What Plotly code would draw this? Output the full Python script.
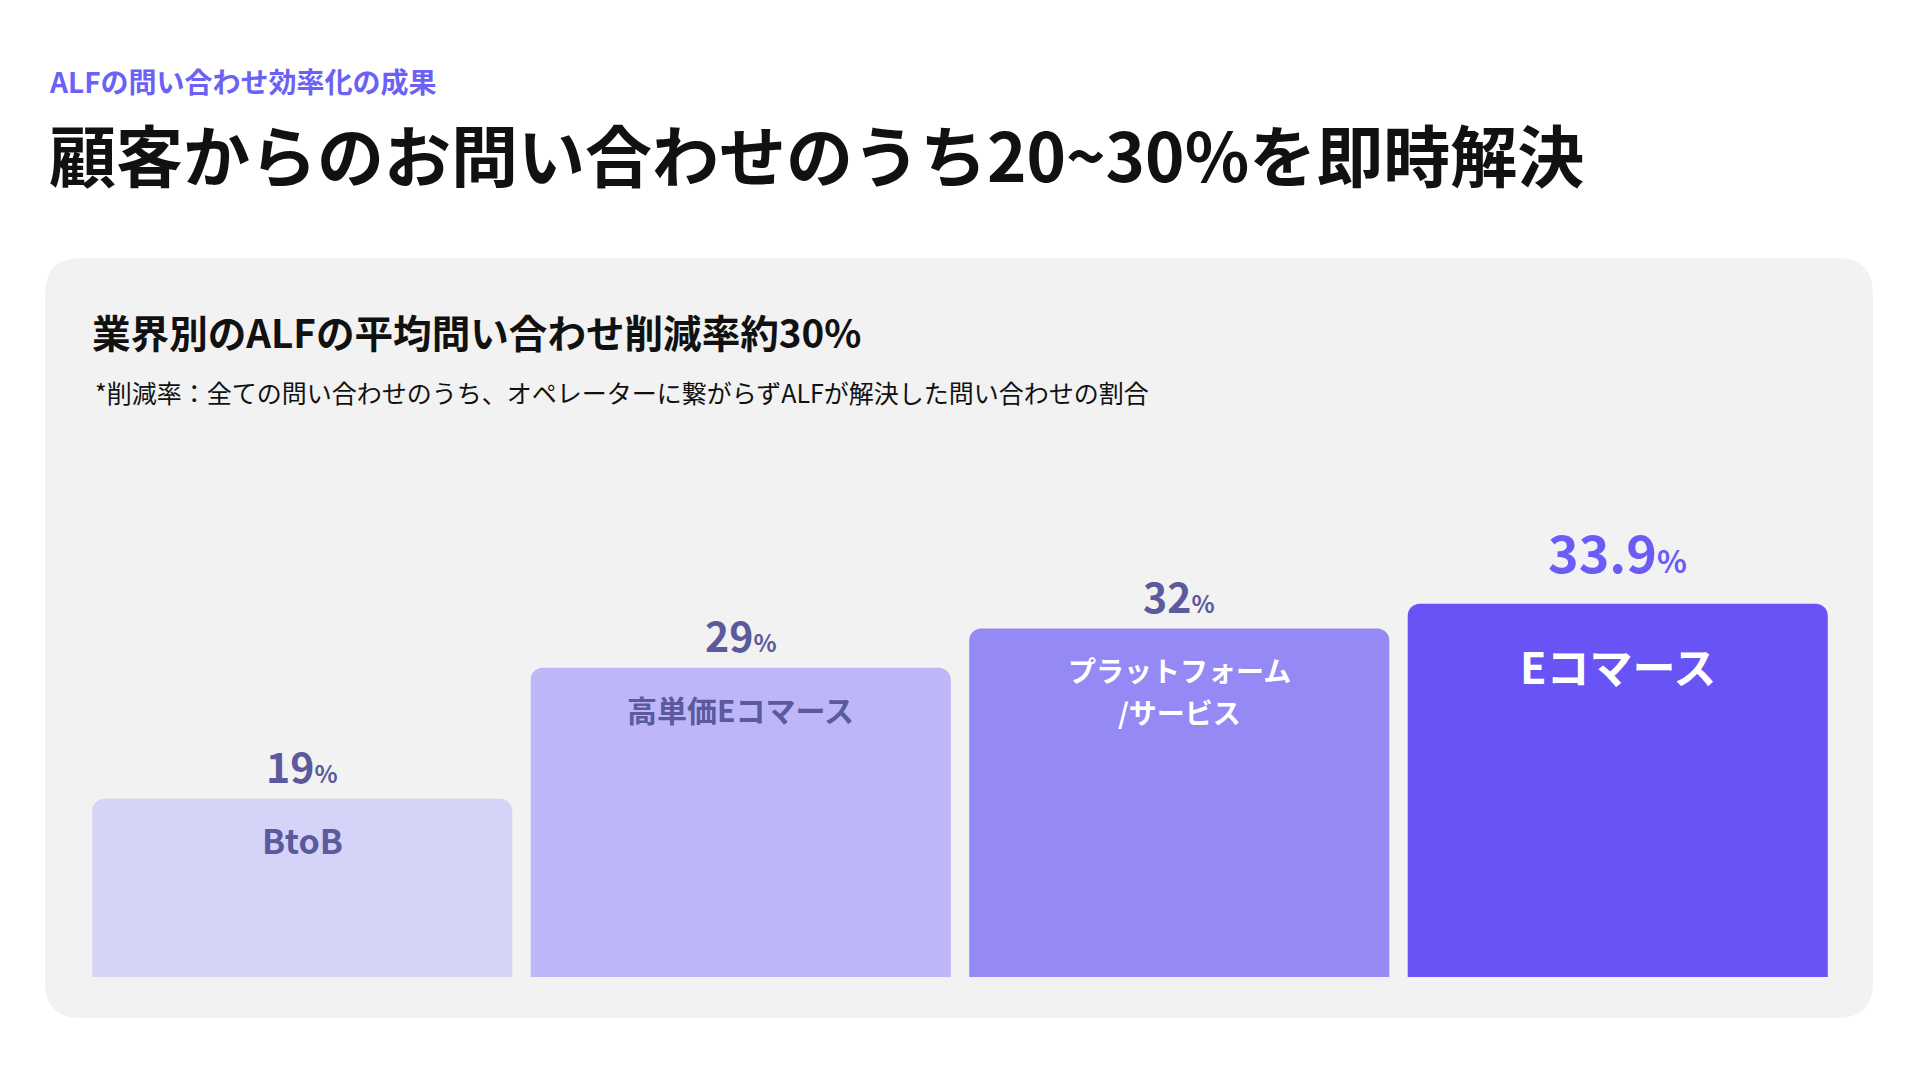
import plotly.graph_objects as go

# data
categories = ["BtoB", "高単価Eコマース", "プラットフォーム<br>/サービス", "Eコマース"]
reduction_rate = [19, 29, 32, 33.9]
value_text = ["19", "29", "32", "33.9"]

eyebrow = "ALFの問い合わせ効率化の成果"
headline = "顧客からのお問い合わせのうち20~30%を即時解決"
card_title = "業界別のALFの平均問い合わせ削減率約30%"
card_note = "*削減率：全ての問い合わせのうち、オペレーターに繋がらずALFが解決した問い合わせの割合"

# styling
W, H = 1920, 1080
ML, MR, MT, MB = 75, 91, 412, 111
PW, PH = W - ML - MR, H - MT - MB
Y_BASE = 5.4          # axis does not start at zero
PX_PER_UNIT = 13.1
FONT = "Noto Sans CJK JP"
SLATE = "#5A5A9D"
ACCENT = "#6A5CF6"

bar_colors = ["#D6D3F9", "#BDB6F9", "#9589F5", "#6853F4"]
label_colors = [SLATE, SLATE, "white", "white"]
label_sizes = [34, 30, 28, 43]
label_shift = [-14, -17, -19, -28]
line_gap = 42
num_sizes = [41, 41, 41, 52]
pct_sizes = [24, 24, 24, 31]
num_colors = [SLATE, SLATE, SLATE, ACCENT]
num_shift = [2, 2, 2, 14]


def px(x):
    return (x - ML) / PW


def py(y):
    return (H - MB - y) / PH


def rounded_rect(x0, y0, x1, y1, r):
    rx, ry = r / PW, r / PH
    a, b, c, d = px(x0), py(y0), px(x1), py(y1)
    return (f"M {a + rx} {b} L {c - rx} {b} Q {c} {b} {c} {b - ry} "
            f"L {c} {d + ry} Q {c} {d} {c - rx} {d} "
            f"L {a + rx} {d} Q {a} {d} {a} {d + ry} "
            f"L {a} {b - ry} Q {a} {b} {a + rx} {b} Z")


fig = go.Figure()
fig.add_trace(go.Bar(
    x=categories, y=reduction_rate,
    marker=dict(color=bar_colors, cornerradius=12, line=dict(width=0)),
    hoverinfo="skip",
))

annotations = [
    dict(text=f"<b>{eyebrow}</b>", x=px(39), y=py(73), xanchor="left", yanchor="middle",
         font=dict(size=28, color="#6B61F6")),
    dict(text=f"<b>{headline}</b>", x=px(39), y=py(145), xanchor="left", yanchor="middle",
         font=dict(size=67, color="#111111")),
    dict(text=f"<b>{card_title}</b>", x=px(82), y=py(323), xanchor="left", yanchor="middle",
         font=dict(size=38.6, color="#111111")),
    dict(text=card_note, x=px(85), y=py(384), xanchor="left", yanchor="middle",
         font=dict(size=25, color="#111111")),
]
for a in annotations:
    a.update(xref="paper", yref="paper", showarrow=False)

for i, (cat, val) in enumerate(zip(categories, reduction_rate)):
    annotations.append(dict(
        x=cat, y=val, xref="x", yref="y", showarrow=False,
        xanchor="center", yanchor="bottom", yshift=num_shift[i],
        text=f"<b>{value_text[i]}<span style='font-size:{pct_sizes[i]}px'>%</span></b>",
        font=dict(size=num_sizes[i], color=num_colors[i]),
    ))
    for j, line in enumerate(cat.split("<br>")):
        annotations.append(dict(
            x=cat, y=val, xref="x", yref="y", showarrow=False,
            xanchor="center", yanchor="top", yshift=label_shift[i] - j * line_gap,
            text=f"<b>{line}</b>",
            font=dict(size=label_sizes[i], color=label_colors[i]),
        ))

fig.update_layout(
    width=W, height=H,
    margin=dict(l=ML, r=MR, t=MT, b=MB),
    paper_bgcolor="white", plot_bgcolor="rgba(0,0,0,0)",
    font=dict(family=FONT),
    bargap=0.042,
    showlegend=False,
    xaxis=dict(visible=False),
    yaxis=dict(visible=False, range=[Y_BASE, Y_BASE + PH / PX_PER_UNIT]),
    shapes=[dict(type="path", xref="paper", yref="paper", layer="below",
                 path=rounded_rect(37, 250, 1865, 1010, 36),
                 fillcolor="#F2F2F2", line=dict(width=0))],
    annotations=annotations,
)

fig.write_html("out.html")
